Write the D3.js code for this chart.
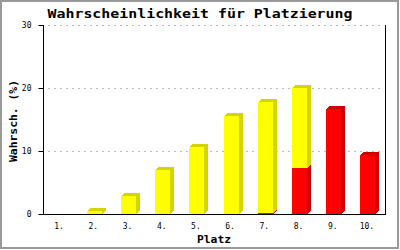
<!DOCTYPE html>
<html>
<head>
<meta charset="utf-8">
<script src="https://cdn.jsdelivr.net/npm/d3@7"></script>
<style>
  html, body { margin: 0; padding: 0; background: #fff; }
  svg { display: block; }
</style>
</head>
<body>
<svg id="chart" width="400" height="250"></svg>
<script>
const places = ['1.', '2.', '3.', '4.', '5.', '6.', '7.', '8.', '9.', '10.']
// bottom part (red) and top part (yellow), in percent
const redValues = [0, 0, 0, 0, 0, 0, 0.15, 7.3, 16.7, 9.4]
const yellowValues = [0, 0.4, 2.9, 7.0, 10.6, 15.6, 17.6, 12.7, 0, 0]
const yTicks = [0, 10, 20, 30]

const svg = d3.select('#chart')
const mono = "'DejaVu Sans Mono', 'Liberation Mono', monospace"

const x = d3.scaleBand().domain(places).range([43, 385]).paddingInner(0.56).paddingOuter(0.28)
const y = d3.scaleLinear().domain([0, 30]).range([214, 25])
const dx = 4, dy = 3

// outer frame
svg.append('rect').attr('x', 1).attr('y', 1).attr('width', 397).attr('height', 247)
    .attr('fill', '#fff').attr('stroke', '#999').attr('stroke-width', 2)

// grid
svg.append('g').selectAll('line').data(yTicks.filter(t => t > 0)).enter().append('line')
    .attr('x1', 48).attr('x2', 384)
    .attr('y1', d => Math.round(y(d)) + 0.5).attr('y2', d => Math.round(y(d)) + 0.5)
    .attr('stroke', '#bbb').attr('stroke-dasharray', '2,4')

// stacked 3d bars
const stacks = places.map((p, i) => ({p, parts: [
    {y0: 0, y1: redValues[i], front: '#ff0000', side: '#cc0000'},
    {y0: redValues[i], y1: redValues[i] + yellowValues[i], front: '#ffff00', side: '#d4d400'}
]}))

const bars = svg.append('g')
stacks.forEach(s => {
    const x0 = Math.round(x(s.p)), w = Math.round(x.bandwidth())
    s.parts.forEach(d => {
        if (d.y1 - d.y0 <= 0) return
        const top = Math.round(y(d.y1)), bot = Math.round(y(d.y0))
        // side face
        bars.append('path')
            .attr('d', `M${x0 + w},${bot}L${x0 + w + dx},${bot - dy}L${x0 + w + dx},${top - dy}L${x0 + w},${top}Z`)
            .attr('fill', d.side).attr('shape-rendering', 'crispEdges')
        // top face
        bars.append('path')
            .attr('d', `M${x0},${top}L${x0 + dx},${top - dy}L${x0 + w + dx},${top - dy}L${x0 + w},${top}Z`)
            .attr('fill', d.side).attr('shape-rendering', 'crispEdges')
        // front face
        bars.append('rect')
            .attr('x', x0).attr('y', top).attr('width', w).attr('height', bot - top)
            .attr('fill', d.front).attr('shape-rendering', 'crispEdges')
    })
})

// axes
const yAxis = svg.append('g').attr('transform', 'translate(43.5,0)')
    .call(d3.axisLeft(y).tickValues(yTicks).tickSize(5).tickPadding(7))
yAxis.select('.domain').remove()
yAxis.selectAll('text').attr('font-family', mono).attr('font-size', 8).attr('fill', '#000')
yAxis.selectAll('line').attr('stroke', '#000')

svg.append('line').attr('x1', 43.5).attr('x2', 43.5).attr('y1', y(30)).attr('y2', 214.5).attr('stroke', '#000')
svg.append('line').attr('x1', 385.5).attr('x2', 385.5).attr('y1', y(30)).attr('y2', 214.5).attr('stroke', '#000')
svg.append('line').attr('x1', 43).attr('x2', 386).attr('y1', 214.5).attr('y2', 214.5).attr('stroke', '#000')

const xAxis = svg.append('g').attr('transform', 'translate(-1,214)')
    .call(d3.axisBottom(x).tickSize(0).tickPadding(9))
xAxis.select('.domain').remove()
xAxis.selectAll('text').attr('font-family', mono).attr('font-size', 8).attr('fill', '#000')

// titles
svg.append('text').attr('x', 200).attr('y', 18).attr('text-anchor', 'middle')
    .attr('font-family', mono).attr('font-weight', 'bold').attr('font-size', 12)
    .attr('textLength', 305).attr('lengthAdjust', 'spacingAndGlyphs')
    .text('Wahrscheinlichkeit für Platzierung')

svg.append('text').attr('x', 214).attr('y', 243).attr('text-anchor', 'middle')
    .attr('font-family', mono).attr('font-weight', 'bold').attr('font-size', 11)
    .attr('textLength', 34).attr('lengthAdjust', 'spacingAndGlyphs')
    .text('Platz')

svg.append('text').attr('transform', 'translate(17,121) rotate(-90)').attr('text-anchor', 'middle')
    .attr('font-family', mono).attr('font-weight', 'bold').attr('font-size', 11)
    .attr('textLength', 82).attr('lengthAdjust', 'spacingAndGlyphs')
    .text('Wahrsch. (%)')
</script>
</body>
</html>
